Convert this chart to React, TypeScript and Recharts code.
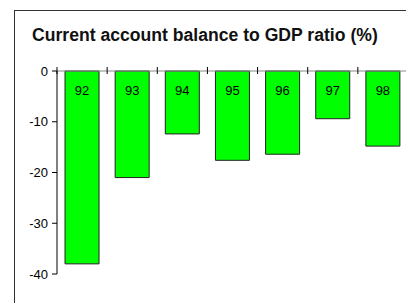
import React from "react";
import { Bar, BarChart, LabelList, XAxis, YAxis } from "recharts";

const years = ["92", "93", "94", "95", "96", "97", "98"];
const balance = [-38, -21, -12.4, -17.6, -16.4, -9.4, -14.8];
const yTicks = [0, -10, -20, -30, -40];

const FONT = '"Liberation Sans", Arial, Helvetica, sans-serif';

const data = years.map((year, i) => ({ year, value: balance[i] }));

// category ticks sit between bars, not under their centres
function BoundaryTick(props: any) {
  const { x, y, payload, index } = props;
  const half = payload && payload.offset ? payload.offset : 0;
  const last = index === years.length - 1;
  return (
    <g>
      <line x1={x - half} x2={x - half} y1={y - 4} y2={y + 3} stroke="#000" strokeWidth={1} />
      {last && <line x1={x + half} x2={x + half} y1={y - 4} y2={y + 3} stroke="#000" strokeWidth={1} />}
    </g>
  );
}

function BarLabel(props: any) {
  const { x, y, width, height, value } = props;
  const top = Math.min(y, y + height);
  return (
    <text x={x + width / 2} y={top + 24} textAnchor="middle" fontSize={13} fill="#000" fontFamily={FONT}>
      {value}
    </text>
  );
}

export default function App() {
  return (
    <div style={{ position: "relative", width: 406, height: 295, overflow: "hidden", fontFamily: FONT }}>
      <div style={{ position: "absolute", left: 0, top: 0 }}>
        <BarChart
          width={406}
          height={295}
          data={data}
          margin={{ top: 62, right: 6, left: 9, bottom: 29 }}
          barCategoryGap="16%"
        >
          <XAxis
            dataKey="year"
            orientation="top"
            height={1}
            interval={0}
            tickSize={0}
            tickMargin={0}
            tickLine={false}
            axisLine={{ stroke: "#888" }}
            tick={<BoundaryTick />}
          />
          <YAxis
            domain={[-40, 0]}
            ticks={yTicks}
            interval={0}
            width={40}
            tickSize={5}
            tickMargin={4}
            axisLine={{ stroke: "#000" }}
            tickLine={{ stroke: "#000" }}
            tick={{ fill: "#000", fontSize: 13, fontFamily: FONT }}
          />
          <Bar dataKey="value" fill="#00ff00" stroke="#222" strokeWidth={1} isAnimationActive={false}>
            <LabelList dataKey="year" content={<BarLabel />} />
          </Bar>
        </BarChart>
      </div>
      <div
        style={{
          position: "absolute",
          left: 6,
          top: 2,
          width: 460,
          height: 360,
          border: "1px solid #333",
          pointerEvents: "none",
          zIndex: 2,
        }}
      />
      <div
        style={{
          position: "absolute",
          left: 24,
          top: 19,
          fontSize: 17.6,
          lineHeight: "17px",
          fontWeight: "bold",
          color: "#111",
          whiteSpace: "nowrap",
        }}
      >
        Current account balance to GDP ratio (%)
      </div>
    </div>
  );
}
